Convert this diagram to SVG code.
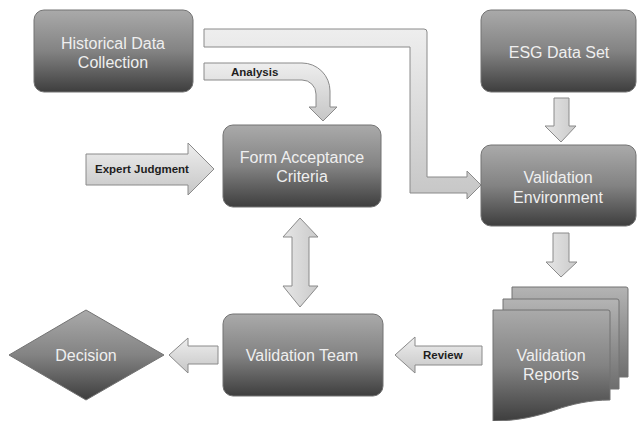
<svg xmlns="http://www.w3.org/2000/svg" width="638" height="421" viewBox="0 0 638 421">
  <defs>
    <linearGradient id="nodeFill" x1="0" y1="0" x2="0" y2="1">
      <stop offset="0" stop-color="#aaaaaa"/>
      <stop offset="0.5" stop-color="#838383"/>
      <stop offset="1" stop-color="#3e3e3e"/>
    </linearGradient>
    <linearGradient id="sheetFill" x1="0" y1="0" x2="0" y2="1">
      <stop offset="0" stop-color="#b4b4b4"/>
      <stop offset="1" stop-color="#6e6e6e"/>
    </linearGradient>
    <linearGradient id="arrowFill" x1="0" y1="0" x2="0" y2="1">
      <stop offset="0" stop-color="#eeeeee"/>
      <stop offset="1" stop-color="#c6c6c6"/>
    </linearGradient>
    <linearGradient id="arrowFillH" x1="0" y1="0" x2="1" y2="0">
      <stop offset="0" stop-color="#e6e6e6"/>
      <stop offset="1" stop-color="#cacaca"/>
    </linearGradient>
  </defs>
  <style>
    .node { fill: url(#nodeFill); stroke: #737373; stroke-width: 1; }
    .sheet { fill: url(#sheetFill); stroke: #737373; stroke-width: 1; }
    .label { font-family: "Liberation Sans", Arial, sans-serif; font-size: 16px; fill: #efefef; text-anchor: middle; }
    .arrow { fill: url(#arrowFill); stroke: #8a8a8a; stroke-width: 1; stroke-linejoin: round; }
    .arrowv { fill: url(#arrowFillH); stroke: #8a8a8a; stroke-width: 1; stroke-linejoin: round; }
    .alabel { font-family: "Liberation Sans", Arial, sans-serif; font-size: 11.5px; font-weight: bold; fill: #1e1e1e; }
  </style>
  <rect width="638" height="421" fill="#ffffff"/>

  <!-- connectors -->
  <g id="connectors">
    <!-- Historical Data Collection to Validation Environment -->
    <path class="arrow" d="M204,29 H424 Q427,29 427,32 V177 H467 V171 L481,185 L467,199 V193 H410 V47 H204 Z"/>
    <!-- Analysis -->
    <path class="arrow" d="M204,63 H302 A28,28 0 0 1 330,91 V107 H337 L323,121 L309,107 H316 V94 A14,14 0 0 0 302,80 H204 Z"/>
    <text class="alabel" x="231" y="76">Analysis</text>
    <!-- Expert Judgment -->
    <path class="arrow" d="M86,154 H188 V143 L214,169 L188,195 V185 H86 Z"/>
    <text class="alabel" x="95" y="173" font-size="12">Expert Judgment</text>
    <!-- Form Acceptance Criteria <-> Validation Team -->
    <path class="arrowv" d="M300,218 L318,237 H309 V286 H318 L300,307 L283,286 H292 V237 H283 Z"/>
    <!-- ESG Data Set to Validation Environment -->
    <path class="arrowv" d="M554,98 H569 V126 H576 L561,142 L545,126 H554 Z"/>
    <!-- Validation Environment to Validation Reports -->
    <path class="arrowv" d="M553,233 H569 V262 H577 L561,277 L546,262 H553 Z"/>
    <!-- Review -->
    <path class="arrow" d="M482,346 H415 V337 L395,355 L415,373 V365 H482 Z"/>
    <text class="alabel" x="423" y="359">Review</text>
    <!-- Validation Team to Decision -->
    <path class="arrow" d="M218,346 H188 V338 L169,355 L188,373 V364 H218 Z"/>
  </g>

  <g id="historical-data-collection">
    <rect class="node" x="34" y="10" width="159" height="82" rx="10"/>
    <text class="label" x="113" y="49">Historical Data</text>
    <text class="label" x="113" y="68">Collection</text>
  </g>

  <g id="esg-data-set">
    <rect class="node" x="481" y="10" width="155" height="82" rx="10"/>
    <text class="label" x="559" y="58">ESG Data Set</text>
  </g>

  <g id="form-acceptance-criteria">
    <rect class="node" x="223" y="125" width="158" height="82" rx="10"/>
    <text class="label" x="302" y="163">Form Acceptance</text>
    <text class="label" x="302" y="182">Criteria</text>
  </g>

  <g id="validation-environment">
    <rect class="node" x="481" y="145" width="155" height="81" rx="10"/>
    <text class="label" x="558" y="183">Validation</text>
    <text class="label" x="558" y="203">Environment</text>
  </g>

  <g id="validation-team">
    <rect class="node" x="223" y="314" width="160" height="82" rx="10"/>
    <text class="label" x="302" y="361">Validation Team</text>
  </g>

  <g id="decision">
    <path class="node" d="M9,355 L86,310 L164,355 L86,400 Z"/>
    <text class="label" x="86" y="361">Decision</text>
  </g>

  <g id="validation-reports">
    <path class="sheet" d="M512,287 H626 Q628,287 628,289 V377 H512 Z"/>
    <path class="sheet" d="M503,299 H617 Q619,299 619,301 V389 H503 Z"/>
    <path class="node" d="M493,310 H608 Q610,310 610,312 V400 C590,400 572,404 555,410 C538,416 518,421 493,421 Z"/>
    <text class="label" x="551" y="361">Validation</text>
    <text class="label" x="551" y="380">Reports</text>
  </g>
</svg>
